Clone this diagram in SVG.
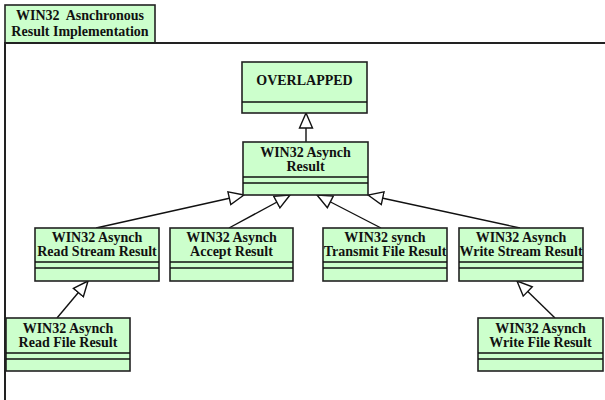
<svg xmlns="http://www.w3.org/2000/svg" width="605" height="400" viewBox="0 0 605 400">
  <style>
    .box { fill: #ccffcc; stroke: #222; stroke-width: 1.6; }
    .sep { stroke: #111; stroke-width: 1.6; }
    .lbl { font-family: "Liberation Serif", "Times New Roman", serif; font-weight: bold; font-size: 14px; fill: #111; text-anchor: middle; }
    .edge { fill: none; stroke: #111; stroke-width: 1.4; marker-end: url(#gen); }
    .frame { fill: none; stroke: #222; stroke-width: 2; }
  </style>
  <defs>
    <!-- hollow triangle for generalization -->
    <marker id="gen" viewBox="-16 -8 17 16" markerWidth="17" markerHeight="16" refX="0" refY="0" orient="auto" markerUnits="userSpaceOnUse">
      <path d="M0,0 L-15,-6.5 L-15,6.5 Z" fill="#fff" stroke="#111" stroke-width="1.4"/>
    </marker>
  </defs>
  <rect width="605" height="400" fill="#fff"/>

  <!-- package frame -->
  <g id="package">
    <rect x="5" y="5" width="150" height="38" fill="#ccffcc" stroke="#222" stroke-width="1.6"/>
    <path class="frame" d="M5,400 V43 H605"/>
    <text class="lbl" x="80" y="20" xml:space="preserve">WIN32  Asnchronous</text>
    <text class="lbl" x="80" y="36">Result Implementation</text>
  </g>

  <g id="connectors">
    <path class="edge" d="M306,142 L306,113"/>
    <path class="edge" d="M96,228 L244,195"/>
    <path class="edge" d="M229,228 L290,195"/>
    <path class="edge" d="M381,228 L317,195"/>
    <path class="edge" d="M520,228 L368,195"/>
    <path class="edge" d="M57,318 L88,281"/>
    <path class="edge" d="M555,318 L517,281"/>
  </g>

  <g id="overlapped">
    <rect class="box" x="242" y="62" width="125" height="51"/>
    <line class="sep" x1="242" y1="102" x2="367" y2="102" stroke-width="2.6"/>
    <text class="lbl" x="304.5" y="85">OVERLAPPED</text>
  </g>

  <g id="asynchResult">
    <rect class="box" x="243" y="142" width="125" height="53"/>
    <line class="sep" x1="243" y1="177" x2="368" y2="177"/>
    <line class="sep" x1="243" y1="183" x2="368" y2="183"/>
    <text class="lbl" x="305.5" y="157">WIN32 Asynch</text>
    <text class="lbl" x="305.5" y="171">Result</text>
  </g>

  <g id="readStreamResult">
    <rect class="box" x="35" y="228" width="124" height="53"/>
    <line class="sep" x1="35" y1="262" x2="159" y2="262"/>
    <line class="sep" x1="35" y1="268" x2="159" y2="268"/>
    <text class="lbl" x="97" y="242">WIN32 Asynch</text>
    <text class="lbl" x="97" y="256">Read Stream Result</text>
  </g>

  <g id="acceptResult">
    <rect class="box" x="170" y="228" width="123" height="53"/>
    <line class="sep" x1="170" y1="262" x2="293" y2="262"/>
    <line class="sep" x1="170" y1="268" x2="293" y2="268"/>
    <text class="lbl" x="231.5" y="242">WIN32 Asynch</text>
    <text class="lbl" x="231.5" y="256">Accept Result</text>
  </g>

  <g id="transmitFileResult">
    <rect class="box" x="323" y="228" width="124" height="53"/>
    <line class="sep" x1="323" y1="262" x2="447" y2="262"/>
    <line class="sep" x1="323" y1="268" x2="447" y2="268"/>
    <text class="lbl" x="385" y="242">WIN32 synch</text>
    <text class="lbl" x="385" y="256">Transmit File Result</text>
  </g>

  <g id="writeStreamResult">
    <rect class="box" x="459" y="228" width="124" height="53"/>
    <line class="sep" x1="459" y1="262" x2="583" y2="262"/>
    <line class="sep" x1="459" y1="268" x2="583" y2="268"/>
    <text class="lbl" x="521" y="242">WIN32 Asynch</text>
    <text class="lbl" x="521" y="256">Write Stream Result</text>
  </g>

  <g id="readFileResult">
    <rect class="box" x="6" y="318" width="124" height="53"/>
    <line class="sep" x1="6" y1="353" x2="130" y2="353"/>
    <line class="sep" x1="6" y1="359" x2="130" y2="359"/>
    <text class="lbl" x="68" y="333">WIN32 Asynch</text>
    <text class="lbl" x="68" y="347">Read File Result</text>
  </g>

  <g id="writeFileResult">
    <rect class="box" x="478" y="318" width="125" height="53"/>
    <line class="sep" x1="478" y1="353" x2="603" y2="353"/>
    <line class="sep" x1="478" y1="359" x2="603" y2="359"/>
    <text class="lbl" x="540.5" y="333">WIN32 Asynch</text>
    <text class="lbl" x="540.5" y="347">Write File Result</text>
  </g>
</svg>
